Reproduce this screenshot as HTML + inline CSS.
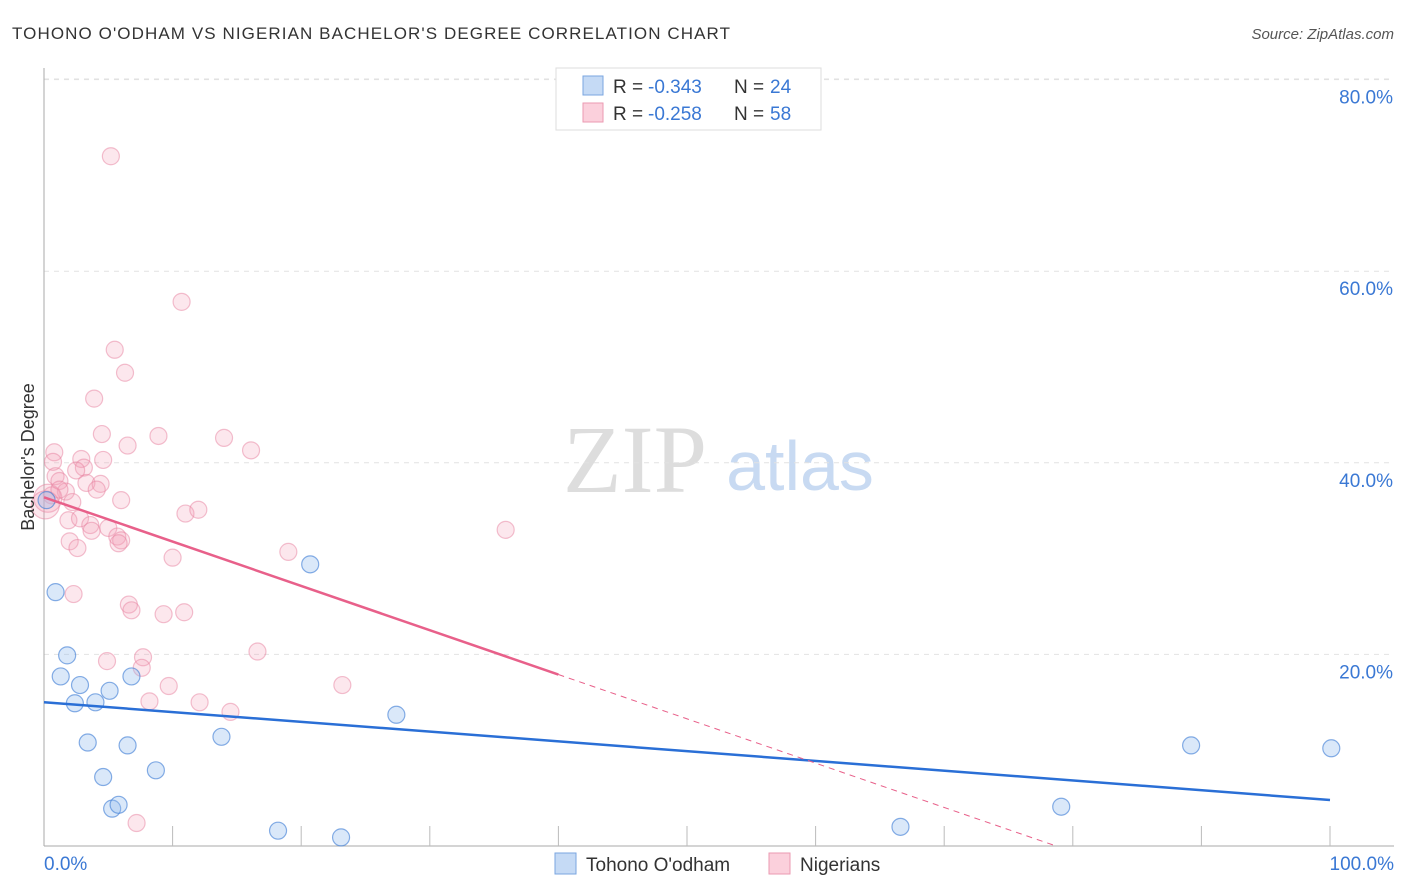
<!DOCTYPE html>
<html><head><meta charset="utf-8"><style>
body{margin:0;background:#fff;font-family:"Liberation Sans",sans-serif;}
svg{display:block}
</style></head><body>
<svg id="chart" width="1406" height="892">
<text x="12" y="39" font-size="17" fill="#333" textLength="718" lengthAdjust="spacing">TOHONO O'ODHAM VS NIGERIAN BACHELOR'S DEGREE CORRELATION CHART</text>
<text x="1394" y="39" font-size="15" fill="#555" font-style="italic" text-anchor="end">Source: ZipAtlas.com</text>
<text x="635" y="492" font-size="96" fill="#ddd" font-family="Liberation Serif,serif" text-anchor="middle">ZIP</text>
<text x="800" y="490" font-size="70" fill="#c8daf2" text-anchor="middle">atlas</text>
<g id="grid"></g>
<g id="axes"></g>
<g id="points"></g>
<g id="trends"></g>
<text transform="translate(34,457) rotate(-90)" font-size="18" fill="#333" text-anchor="middle">Bachelor's Degree</text>
<g>
<rect x="556" y="68" width="265" height="62" fill="#fff" stroke="#ddd"/>
<rect x="583" y="76" width="20" height="19" fill="#c5daf5" stroke="#7aa6e0"/>
<rect x="583" y="103" width="20" height="19" fill="#fbd0dc" stroke="#eb9ab2"/>
<text x="613" y="93" font-size="19" fill="#333">R = </text><text x="648" y="93" font-size="19" fill="#3a78d4">-0.343</text>
<text x="734" y="93" font-size="19" fill="#333">N = </text><text x="770" y="93" font-size="19" fill="#3a78d4">24</text>
<text x="613" y="120" font-size="19" fill="#333">R = </text><text x="648" y="120" font-size="19" fill="#3a78d4">-0.258</text>
<text x="734" y="120" font-size="19" fill="#333">N = </text><text x="770" y="120" font-size="19" fill="#3a78d4">58</text>
</g>
<g>
<rect x="555" y="853" width="21" height="21" fill="#c5daf5" stroke="#7aa6e0"/>
<text x="586" y="871" font-size="19" fill="#333">Tohono O'odham</text>
<rect x="769" y="853" width="21" height="21" fill="#fbd0dc" stroke="#eb9ab2"/>
<text x="800" y="871" font-size="19" fill="#333">Nigerians</text>
</g>
</svg>
<script>
const xTicks=[0,100];
const yTicks=[20,40,60,80];
const blueX=[0.2,0.9,1.8,1.3,2.8,2.4,4.0,5.1,6.8,3.4,6.5,4.6,8.7,13.8,5.3,5.8,18.2,23.1,20.7,27.4,66.6,79.1,89.2,100.1];
const blueY=[36.1,26.5,19.9,17.7,16.8,14.9,15.0,16.2,17.7,10.8,10.5,7.2,7.9,11.4,3.9,4.3,1.6,0.9,29.4,13.7,2.0,4.1,10.5,10.2];
const pinkX=[5.2,10.7,5.5,6.3,3.9,4.5,8.9,14.0,6.5,16.1,0.8,0.7,2.9,4.6,3.1,0.9,1.2,3.3,4.4,4.1,1.7,0.6,0.3,6.0,2.2,1.9,2.8,11.0,12.0,3.6,5.0,2.0,5.7,6.0,5.8,2.6,35.9,10.0,19.0,2.3,6.6,6.8,9.3,10.9,16.6,4.9,7.7,7.6,9.7,23.2,8.2,12.1,14.5,7.2,1.2,3.7,2.5,0.1];
const pinkY=[72.0,56.8,51.8,49.4,46.7,43.0,42.8,42.6,41.8,41.3,41.1,40.1,40.4,40.3,39.5,38.6,38.1,37.9,37.8,37.2,37.0,36.6,36.3,36.1,35.9,34.0,34.2,34.7,35.1,33.5,33.2,31.8,32.3,31.9,31.6,31.1,33.0,30.1,30.7,26.3,25.2,24.6,24.2,24.4,20.3,19.3,19.7,18.6,16.7,16.8,15.1,15.0,14.0,2.4,37.2,32.9,39.2,35.6];
const blueTrend=[15.0,4.8];
const pinkTrend=[36.4,-9.85];
const pinkSolidEnd=40;
const NS="http://www.w3.org/2000/svg";
const X=v=>44+v*12.86, Y=v=>846-v*9.58;
function mk(t,a,p){const e=document.createElementNS(NS,t);for(const k in a)e.setAttribute(k,a[k]);p.appendChild(e);return e;}
const grid=document.getElementById('grid'),axes=document.getElementById('axes'),pts=document.getElementById('points'),tr=document.getElementById('trends');
yTicks.forEach(t=>{
 const l=mk('line',{x1:44,x2:1394,y1:Y(t),y2:Y(t),stroke:'#e2e2e2','stroke-dasharray':'5,5'},grid);
 
 
 const tx=mk('text',{x:1393,y:Y(t)+24,'font-size':19,fill:'#3a78d4','text-anchor':'end'},grid);
 tx.textContent=t.toFixed(1)+'%';
 
 
});
mk('line',{x1:44,x2:1394,y1:79,y2:79,stroke:'#e2e2e2','stroke-dasharray':'5,5'},grid);
mk('line',{x1:44,x2:44,y1:68,y2:846,stroke:'#aaa'},axes);
mk('line',{x1:44,x2:1394,y1:846,y2:846,stroke:'#aaa'},axes);
for(let i=1;i<=10;i++){mk('line',{x1:X(i*10),x2:X(i*10),y1:826,y2:846,stroke:'#bbb'},axes);}
xTicks.forEach((t,i)=>{
 const tx=mk('text',{x:i==0?44:1394,y:870,'font-size':19,fill:'#3a78d4','text-anchor':i==0?'start':'end'},axes);
 tx.textContent=t.toFixed(1)+'%';
 
 
});
pinkX.forEach((v,i)=>{
 const r=(v<0.5)?14:8.5;
 const c=mk('circle',{cx:X(v),cy:Y(pinkY[i]),r:r,fill:'rgba(244,160,185,0.25)',stroke:'rgba(232,130,160,0.5)','stroke-width':1.2},pts);
 
 
});
blueX.forEach((v,i)=>{
 const c=mk('circle',{cx:X(v),cy:Y(blueY[i]),r:8.5,fill:'rgba(150,188,238,0.35)',stroke:'rgba(70,130,215,0.65)','stroke-width':1.2},pts);
 
 
});
const bl=mk('line',{x1:X(0),y1:Y(blueTrend[0]),x2:X(100),y2:Y(blueTrend[1]),stroke:'#2a6fd6','stroke-width':2.5},tr);


const py=x=>pinkTrend[0]+(pinkTrend[1]-pinkTrend[0])*x/100;
const pl=mk('line',{x1:X(0),y1:Y(py(0)),x2:X(pinkSolidEnd),y2:Y(py(pinkSolidEnd)),stroke:'#e8608a','stroke-width':2.5},tr);


const x0=-pinkTrend[0]/(pinkTrend[1]-pinkTrend[0])*100;
const pd=mk('line',{x1:X(pinkSolidEnd),y1:Y(py(pinkSolidEnd)),x2:X(x0),y2:Y(0),stroke:'#e8608a','stroke-width':1,'stroke-dasharray':'6,5'},tr);


</script>
</body></html>
